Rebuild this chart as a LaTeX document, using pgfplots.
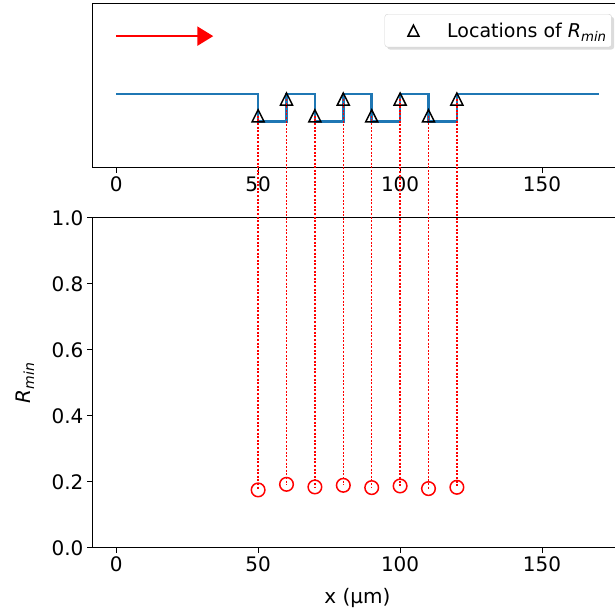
\documentclass[border=0pt]{standalone}
\usepackage{fontspec}
\setmainfont{DejaVu Sans}
\usepackage{pgfplots}
\pgfplotsset{compat=1.18}
\usetikzlibrary{arrows.meta,shadows}

\pgfdeclareplotmark{mtri}{%
 \pgfpathmoveto{\pgfqpoint{0pt}{\pgfplotmarksize}}%
 \pgfpathlineto{\pgfqpoint{-\pgfplotmarksize}{-\pgfplotmarksize}}%
 \pgfpathlineto{\pgfqpoint{\pgfplotmarksize}{-\pgfplotmarksize}}%
 \pgfpathclose\pgfusepathqstroke}

\definecolor{mplblue}{RGB}{31,119,180}

\pgfplotsset{common/.style={
  scale only axis, width=531pt, xmin=-8.5, xmax=178.5,
  xtick={0,50,100,150},
  tick align=outside, major tick length=5pt,
  every tick/.style={black, line width=1pt},
  axis line style={line width=1pt, black},
  axis y line*=left, y axis line style={-},
  tick label style={font=\fontsize{20}{22}\selectfont},
  label style={font=\fontsize{20}{22}\selectfont},
  /pgf/number format/assume math mode=true,
  tick pos=left,
  clip=false,
}}

\begin{document}
\begin{tikzpicture}
\useasboundingbox (0pt,0pt) rectangle (614pt,616pt);
\begin{axis}[common, name=top, at={(92pt,448pt)}, anchor=south west,
  height=164pt, ymin=-1.70, ymax=4.27, ytick=\empty,
  legend style={at={(0.979,0.939)}, anchor=north east,
    draw=gray!35, fill=white, rounded corners=3pt,
    drop shadow={shadow xshift=2.5pt, shadow yshift=-2.5pt, fill=gray!55},
    font=\fontsize{19}{21}\selectfont, inner xsep=3pt, inner ysep=6.5pt},
  legend image code/.code={\path (0pt,0pt) (56pt,0pt);
    \draw[#1, sharp corners, mark size=5.5pt] plot coordinates {(25pt,0pt)};},
]
\addplot[mplblue, line width=2.5pt, forget plot] coordinates {
  (0,1)(50,1)(50,0)(60,0)(60,1)(70,1)(70,0)(80,0)(80,1)(90,1)(90,0)
  (100,0)(100,1)(110,1)(110,0)(120,0)(120,1)(170,1)};
\addplot[red, line width=2.4pt, forget plot,
  -{Triangle[length=16pt,width=19pt]}] coordinates {(0,3.1)(34.2,3.1)};
\addplot[only marks, mark=mtri, mark size=6pt, black, line width=1.5pt]
  coordinates {(50,0.2)(60,0.81)(70,0.2)(80,0.81)(90,0.2)(100,0.81)(110,0.2)(120,0.81)};
\addlegendentry{Locations of {\itshape R}\textsubscript{\itshape min}}
\coordinate (t1) at (axis cs:50,0.2);
\coordinate (t2) at (axis cs:60,0.81);
\coordinate (t3) at (axis cs:70,0.2);
\coordinate (t4) at (axis cs:80,0.81);
\coordinate (t5) at (axis cs:90,0.2);
\coordinate (t6) at (axis cs:100,0.81);
\coordinate (t7) at (axis cs:110,0.2);
\coordinate (t8) at (axis cs:120,0.81);
\end{axis}
\begin{axis}[common, name=bot, at={(92pt,68pt)}, anchor=south west,
  height=330pt, ymin=0, ymax=1, ytick={0,0.2,0.4,0.6,0.8,1.0},
  yticklabel style={/pgf/number format/fixed, /pgf/number format/fixed zerofill,
    /pgf/number format/precision=1},
  xlabel={x (μm)}, ylabel={{\itshape R}\textsubscript{\itshape min}},
  xlabel style={at={(axis description cs:0.5,-0.151)}, anchor=center},
  ylabel style={at={(axis description cs:-0.126,0.5)}, anchor=center},
]
\addplot[only marks, mark=o, red, mark size=6.8pt, line width=1.5pt]
  coordinates {(50,0.176)(60,0.193)(70,0.185)(80,0.190)(90,0.183)(100,0.188)(110,0.180)(120,0.184)};
\coordinate (b1) at (axis cs:50,0.176);
\coordinate (b2) at (axis cs:60,0.193);
\coordinate (b3) at (axis cs:70,0.185);
\coordinate (b4) at (axis cs:80,0.190);
\coordinate (b5) at (axis cs:90,0.183);
\coordinate (b6) at (axis cs:100,0.188);
\coordinate (b7) at (axis cs:110,0.180);
\coordinate (b8) at (axis cs:120,0.184);
\end{axis}
\foreach \i in {1,...,8} {
  \draw[red, line width=1.5pt, dash pattern=on 2pt off 1.6pt] (t\i) -- (b\i);
}
\end{tikzpicture}
\end{document}
